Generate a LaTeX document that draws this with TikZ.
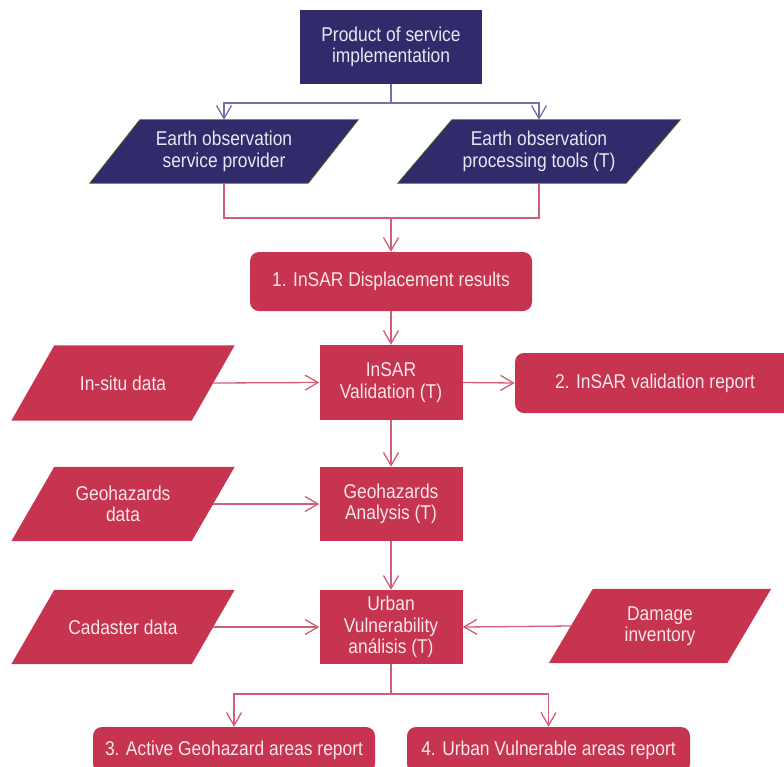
\documentclass[tikz,border=0pt]{standalone}
\usepackage{fontspec}
\setmainfont[FakeStretch=0.87]{Liberation Sans}
\usetikzlibrary{arrows.meta,backgrounds}
\definecolor{navy}{HTML}{312A6B}
\definecolor{crim}{HTML}{C7344F}
\definecolor{bline}{HTML}{7370AA}
\definecolor{pline}{HTML}{D35E78}
\definecolor{ptext}{HTML}{F7E6EA}
\definecolor{ntext}{HTML}{E8E8F2}
\definecolor{pborder}{HTML}{3F5F22}
\newcommand\slantfill[3]{\fill[#3] ([xshift=#2]#1.north west) -- ([xshift=#2]#1.north east) -- ([xshift=-#2]#1.south east) -- ([xshift=-#2]#1.south west) -- cycle;}
\begin{document}
\begin{tikzpicture}[x=1pt,y=-1pt,
  txt/.style={font=\fontsize{20}{21.5}\selectfont, align=center, inner sep=0pt},
  pbox/.style={txt, rectangle, fill=crim, text=ptext},
  rbox/.style={pbox, rounded corners=9pt},
  nbox/.style={txt, fill=navy, text=ntext},
  pslot/.style={txt, text=ptext},
  nslot/.style={txt, text=ntext},
  link/.style={line width=1.3pt, color=pline},
  blink/.style={line width=1.3pt, color=bline},
  arr/.style={-{Straight Barb[length=13pt,width=15pt]}}]
\useasboundingbox (0,0) rectangle (784,766);
% nodes
\node[nbox, minimum width=182pt, minimum height=74pt] (top) at (391,47) {Product of service\\implementation};
\node[nslot, minimum width=218pt, minimum height=63pt] (eosp) at (224,151.5) {Earth observation\\service provider};
\node[nslot, minimum width=228pt, minimum height=63pt] (eopt) at (539,151.5) {Earth observation\\processing tools (T)};
\node[rbox, minimum width=282pt, minimum height=59pt] (box1) at (391,281.5) {1. InSAR Displacement results};
\node[pbox, minimum width=143pt, minimum height=75pt] (val) at (391,382.5) {InSAR\\Validation (T)};
\node[pslot, minimum width=180pt, minimum height=75pt] (insitu) at (123,383) {In-situ data};
\node[rbox, minimum width=280pt, minimum height=60pt] (box2) at (655,383) {2. InSAR validation report};
\node[pbox, minimum width=143pt, minimum height=74pt] (geo) at (391,504) {Geohazards\\Analysis (T)};
\node[pslot, minimum width=180pt, minimum height=74pt] (geodata) at (123,504) {Geohazards\\data};
\node[pbox, minimum width=143pt, minimum height=74pt] (urban) at (391,627) {Urban\\Vulnerability\\análisis (T)};
\node[pslot, minimum width=180pt, minimum height=74pt] (cadaster) at (123,627) {Cadaster data};
\node[pslot, minimum width=178pt, minimum height=74pt] (damage) at (660,626) {Damage\\inventory};
\node[rbox, minimum width=282pt, minimum height=46pt] (box3) at (234,750) {3. Active Geohazard areas report};
\node[rbox, minimum width=283pt, minimum height=46pt] (box4) at (548.5,750) {4. Urban Vulnerable areas report};
% parallelogram bodies
\begin{scope}[on background layer]
\slantfill{eosp}{25}{fill=navy,draw=pborder,line width=0.8pt}
\slantfill{eopt}{27}{fill=navy,draw=pborder,line width=0.8pt}
\slantfill{insitu}{21.5}{crim}
\slantfill{geodata}{21.5}{crim}
\slantfill{cadaster}{21.5}{crim}
\slantfill{damage}{22}{crim}
\end{scope}
% connectors
\coordinate (jb) at (391,103);
\coordinate (jp) at (391,218);
\coordinate (jq) at (391,694);
\draw[blink] (top.south) -- (jb);
\draw[blink,arr] (jb) -| (eosp.north);
\draw[blink,arr] (jb) -| (eopt.north);
\draw[link] (eosp.south) |- (jp);
\draw[link] (eopt.south) |- (jp);
\draw[link,arr] (jp) -- (box1.north);
\draw[link,arr] (box1.south) -- (val.north);
\draw[link,arr] (insitu.east) -- (val.west);
\draw[link,arr] (val.east) -- (box2.west);
\draw[link,arr] (val.south) -- (geo.north);
\draw[link,arr] (geodata.east) -- (geo.west);
\draw[link,arr] (geo.south) -- (urban.north);
\draw[link,arr] (cadaster.east) -- (urban.west);
\draw[link,arr] (damage.west) -- (urban.east);
\draw[link] (urban.south) -- (jq);
\draw[link,arr] (jq) -| (box3.north);
\draw[link,arr] (jq) -| (box4.north);
\end{tikzpicture}
\end{document}
